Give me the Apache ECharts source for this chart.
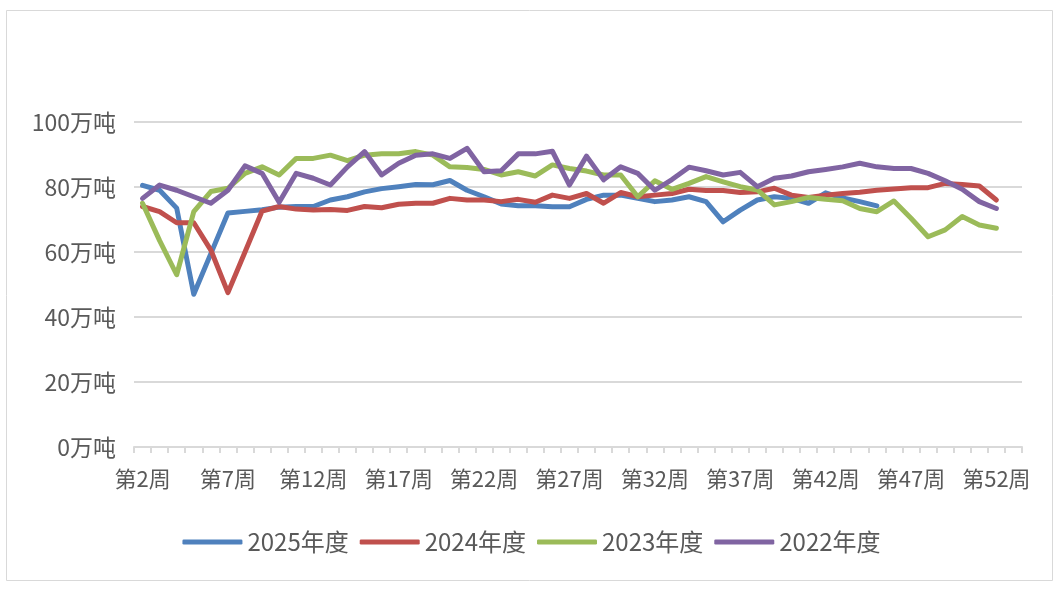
<!DOCTYPE html>
<html>
<head>
<meta charset="utf-8">
<script src="https://cdn.jsdelivr.net/npm/echarts@6/dist/echarts.min.js"></script>
<style>
html,body{margin:0;padding:0;background:#fff;}
#c{width:1063px;height:593px;}
</style>
</head>
<body>
<div id="c"></div>
<script>
// Categories: 第2周 ... 第53周 (last one empty)
const weeks = [];
for (let w = 2; w <= 53; w++) weeks.push('第' + w + '周');

const seriesNames = ['2025年度', '2024年度', '2023年度', '2022年度'];

const y2025 = [80.5, 79, 73.5, 47, 59.5, 72, 72.5, 73, 73.8, 74, 74, 76, 77, 78.5, 79.5, 80.1, 80.8, 80.7, 82, 79, 77, 74.8, 74.2, 74.2, 73.9, 73.9, 76.2, 77.5, 77.5, 76.5, 75.5, 76, 77, 75.5, 69.3, 72.9, 76, 77, 76.5, 75, 78.2, 76.6, 75.5, 74.2, null, null, null, null, null, null, null, null];
const y2024 = [74, 72.4, 69, 69, 60.6, 47.5, 60, 72.6, 74, 73.2, 72.9, 73.1, 72.8, 74, 73.6, 74.7, 75, 75, 76.5, 76, 76, 75.5, 76.2, 75.3, 77.5, 76.5, 78, 75, 78.3, 77, 77.5, 78, 79.3, 78.9, 78.9, 78.3, 78.5, 79.6, 77.5, 76.8, 77.5, 78, 78.4, 79, 79.4, 79.8, 79.8, 81.1, 80.8, 80.3, 76, null];
const y2023 = [75, 63.5, 53, 72.4, 78.6, 79.6, 84.2, 86.2, 83.7, 88.8, 88.8, 89.8, 88.1, 89.8, 90.2, 90.2, 90.9, 89.8, 86.2, 86, 85.4, 83.7, 84.7, 83.4, 86.8, 85.7, 84.9, 83.7, 83.7, 77, 81.9, 79.3, 81.1, 83.2, 81.6, 80.1, 79.1, 74.5, 75.5, 76.8, 76.2, 75.8, 73.4, 72.4, 75.7, 70.4, 64.7, 66.8, 70.9, 68.3, 67.3, null];
const y2022 = [76.5, 80.6, 79, 77, 75, 79, 86.5, 84.2, 75.3, 84.2, 82.7, 80.6, 86.2, 90.9, 83.7, 87.3, 89.8, 90.2, 88.8, 91.9, 84.7, 85, 90.2, 90.2, 91, 80.6, 89.5, 82.2, 86.2, 84.2, 79, 82.3, 86.1, 85, 83.7, 84.5, 80.1, 82.7, 83.4, 84.7, 85.4, 86.2, 87.3, 86.2, 85.7, 85.7, 84.2, 81.9, 79.3, 75.5, 73.4, null];

const colors = ['#4f81bd', '#c0504d', '#9bbb59', '#8064a2'];
const datasets = [y2025, y2024, y2023, y2022];

const chart = echarts.init(document.getElementById('c'), null, {renderer: 'canvas'});
const font = '"Noto Sans CJK SC", "Microsoft YaHei", sans-serif';

chart.setOption({
  animation: false,
  backgroundColor: '#fff',
  textStyle: {fontFamily: font},
  graphic: [{
    type: 'rect',
    shape: {x: 6.5, y: 10.5, width: 1046, height: 570},
    style: {fill: 'none', stroke: '#d9d9d9', lineWidth: 1},
    silent: true, z: -1
  }],
  grid: {left: 134, right: 41, top: 122, bottom: 146, containLabel: false},
  legend: {
    data: seriesNames.map((n, i) => ({name: n, icon: 'roundRect', itemStyle: {color: colors[i]}})),
    left: 'center',
    top: 525,
    itemWidth: 60,
    itemHeight: 5,
    itemGap: 11,
    textStyle: {fontSize: 24, color: '#595959', fontFamily: font}
  },
  xAxis: {
    type: 'category',
    data: weeks,
    boundaryGap: true,
    axisLine: {lineStyle: {color: '#d9d9d9', width: 2}},
    axisTick: {show: true, interval: 0, length: 6, lineStyle: {color: '#d9d9d9', width: 2}},
    axisLabel: {interval: 4, fontSize: 22, color: '#595959', margin: 21, fontFamily: font},
    splitLine: {show: false}
  },
  yAxis: {
    type: 'value',
    min: 0, max: 100, interval: 20,
    axisLine: {show: false},
    axisTick: {show: false},
    axisLabel: {formatter: '{value}万吨', fontSize: 23, color: '#595959', margin: 18, fontFamily: font},
    splitLine: {lineStyle: {color: '#d9d9d9', width: 2}}
  },
  series: seriesNames.map((n, i) => ({
    name: n,
    type: 'line',
    data: datasets[i],
    showSymbol: false,
    symbol: 'none',
    connectNulls: false,
    lineStyle: {color: colors[i], width: 5, cap: 'round', join: 'round'},
    itemStyle: {color: colors[i]}
  }))
});
</script>
</body>
</html>
